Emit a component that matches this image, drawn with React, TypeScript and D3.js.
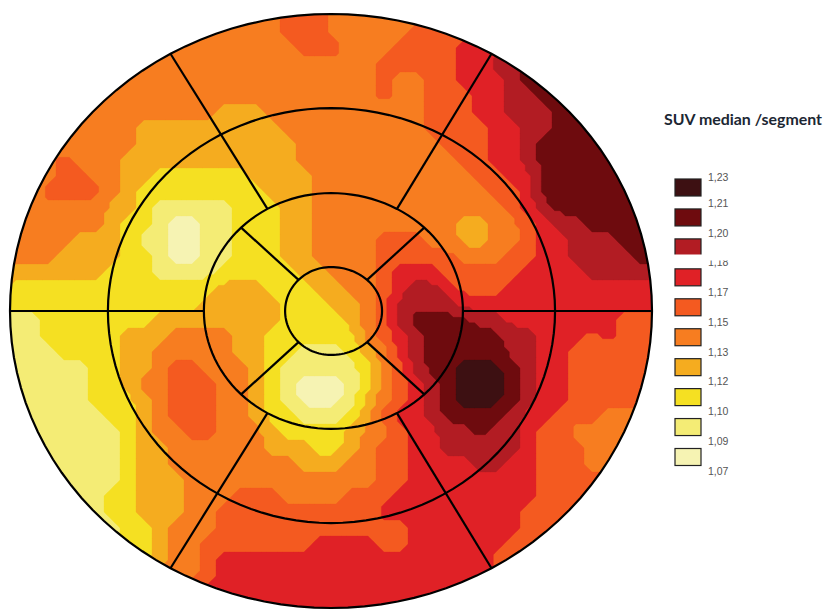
import React from "react";
import * as d3 from "d3";

// Legend, darkest first
const legendLabels = ["1,23", "1,21", "1,20", "1,18", "1,17", "1,15", "1,13", "1,12", "1,10", "1,09", "1,07"];
// Band colours, palest (band 0) to darkest (band 9)
const bandColors = ["#f6f3b3", "#f4ec75", "#f5e022", "#f5ac1f", "#f77d20", "#f45a20", "#e02126", "#b21c23", "#6e0b0e", "#3d1012"];
const bandThresholds = [-1, 0.5, 1.5, 2.5, 3.5, 4.5, 5.5, 6.5, 7.5, 8.5];

// SUV band, one digit per sample, 42 columns x 39 rows
const bandRows = [
  "444444444444444444555444444455667788888888",
  "444444444444444444555444444455667788888888",
  "444444444444444444555444445555667788888888",
  "444444444444444444455544455556667788888888",
  "444444444444444444444444555556677888888888",
  "444444444444444444444444544556667888888888",
  "444444444444444444444444544555667788888888",
  "444444444444443334444444444555667778888888",
  "444444444333333333444444444555566778888888",
  "444444444333333333344444444455566788888888",
  "444454443333333333344444444445566788888888",
  "444455443322222233334444444444556688888888",
  "444555543222222223334444444444455688888888",
  "444444433211111222334444444444445678888888",
  "444444432210011222334444444443344567788888",
  "444443332110011222334444555443344566777888",
  "444433332210011222334444555554445566777788",
  "433333322211112222233444566655555666677777",
  "22222222222222" + "333222" + "3344" + "56776" + "555" + "6666666666",
  "2222222222222" + "33333" + "222" + "33" + "45" + "7777" + "6666666666666",
  "111222222233333333222234578888776666666555",
  "111222223334444332222224567888887766656555",
  "111122223344444332211123467888887766555555",
  "111111223345544432111112457889998766555555",
  "111111223445554432" + "1000" + "124" + "5678" + "999" + "87" + "66" + "555555",
  "111111222345554432" + "1000" + "1" + "345678" + "999" + "87" + "66" + "555555",
  "1111111" + "22" + "34" + "555" + "44" + "3" + "22" + "111" + "2" + "3" + "5" + "66" + "7" + "8888" + "7" + "66" + "555" + "4444",
  "11111111" + "23" + "44" + "55" + "444" + "3" + "2222" + "3" + "44" + "5" + "66" + "77" + "8" + "77" + "6" + "55" + "444444",
  "11111111" + "2" + "33" + "444444" + "333" + "22" + "34" + "55" + "66" + "77777" + "6" + "555" + "444" + "55",
  "11111111" + "2" + "33" + "44444444" + "333" + "44" + "55" + "6666" + "77" + "66" + "555" + "44" + "555",
  "11111111" + "2" + "333" + "444444444444" + "55" + "66666666" + "55555555",
  "1111111" + "22" + "333" + "444" + "555" + "4444" + "555" + "666666666" + "55555555",
  "1111111" + "22" + "333" + "44" + "5555555555" + "666666666" + "555555555",
  "11111111" + "22" + "3" + "444" + "555555555555" + "6666666" + "555555555",
  "11111111" + "22" + "3" + "44" + "5555555" + "6666" + "55" + "666666" + "5555555555",
  "2222222222" + "3" + "44" + "5" + "666" + "666666666666" + "5" + "6" + "55555555555",
  "4444444444444" + "5" + "6666666666666666666666666666",
  "666666666666666666666666666666666666666666",
  "666666666666666666666666666666666666666666",
];

// Polar map geometry: normalised ring radii per side
const ringLeft = [0.143, 0.396, 0.695, 1];
const ringRight = [0.159, 0.411, 0.698, 1];
const ringTop = [0.148, 0.397, 0.683, 1];
const ringBottom = [0.148, 0.397, 0.714, 1];
const outerSpokeAngles = [30, 90, 150, 210, 270, 330];
const innerSpokeAngles = [45, 135, 225, 315];

const W = 827;
const H = 610;
const FINE = 3; // raster cells per data sample: the map is a blocky raster
const xPolar = d3.scaleLinear().domain([-1, 1]).range([10, 652]);
const yPolar = d3.scaleLinear().domain([-1, 1]).range([14, 608]);
const gridX = d3.scaleLinear().domain([0, 42]).range([-8, 664]);
const gridY = d3.scaleLinear().domain([0, 39]).range([-8, 616]);

function ringPoint(ring: number, deg: number): [number, number] {
  const a = (deg * Math.PI) / 180;
  const sx = Math.sin(a);
  const sy = -Math.cos(a);
  const rx = sx < 0 ? ringLeft[ring] : ringRight[ring];
  const ry = sy < 0 ? ringTop[ring] : ringBottom[ring];
  return [xPolar(rx * sx), yPolar(ry * sy)];
}

const line = d3.line();
const ringPath = (ring: number) =>
  line(d3.range(0, 360, 3).map((d) => ringPoint(ring, d))) + "Z";

const legendY = d3.scaleLinear().domain([0, 9]).range([179, 448.5]);
const labelY = d3.scaleLinear().domain([1, 10]).range([203.5, 471]);

export default function App() {
  const ny = bandRows.length;
  const nx = 42;
  const fx = nx * FINE;
  const fy = ny * FINE;
  const fine = new Float64Array(fx * fy);
  for (let y = 0; y < fy; y++) {
    const row = bandRows[Math.floor(y / FINE)];
    for (let x = 0; x < fx; x++) fine[y * fx + x] = +row[Math.floor(x / FINE)];
  }
  d3.blur2({ data: fine, width: fx, height: fy }, 1);
  const contours = d3.contours().size([fx, fy]).smooth(false).thresholds(bandThresholds)(Array.from(fine));
  const path = d3.geoPath(
    d3.geoTransform({
      point(x: number, y: number) {
        (this as any).stream.point(gridX(x / FINE), gridY(y / FINE));
      },
    })
  );

  return (
    <svg
      width={W}
      height={H}
      viewBox={`0 0 ${W} ${H}`}
      style={{ position: "absolute", left: 0, top: 0, background: "#fff" }}
    >
      <defs>
        <clipPath id="map">
          <path d={ringPath(3)} />
        </clipPath>
      </defs>
      <g clipPath="url(#map)">
        {contours.map((c, i) => (
          <path key={i} d={path(c as any) || ""} fill={bandColors[i]} stroke={bandColors[i]} strokeWidth={0.3} />
        ))}
      </g>
      <g fill="none" stroke="#000" strokeWidth={2.2}>
        {[0, 1, 2, 3].map((r) => (
          <path key={r} d={ringPath(r)} />
        ))}
        {outerSpokeAngles.map((a) => (
          <path key={a} d={line([ringPoint(1, a), ringPoint(3, a)]) || ""} />
        ))}
        {innerSpokeAngles.map((a) => (
          <path key={a} d={line([ringPoint(0, a), ringPoint(1, a)]) || ""} />
        ))}
      </g>

      <text
        x={664}
        y={125}
        fontFamily="Lato, 'Open Sans', sans-serif"
        fontWeight={700}
        fontSize={14.5}
        fill="#1c2733"
        textLength={158}
        lengthAdjust="spacingAndGlyphs"
      >
        SUV median /segment
      </text>
      {bandColors
        .slice()
        .reverse()
        .map((c, i) => (
          <rect
            key={c}
            x={675}
            y={legendY(i)}
            width={26}
            height={17}
            fill={c}
            stroke="#222"
            strokeWidth={1.2}
          />
        ))}
      <g fontFamily="'Liberation Sans', Arial, sans-serif" fontSize={10.5} fill="#555">
        {legendLabels.map((l, i) => (
          <text key={l} x={708} y={(i === 0 ? 177 : labelY(i)) + 3.5}>
            {l}
          </text>
        ))}
      </g>
      <rect x={672} y={254.5} width={66} height={6} fill="#fff" />
    </svg>
  );
}
